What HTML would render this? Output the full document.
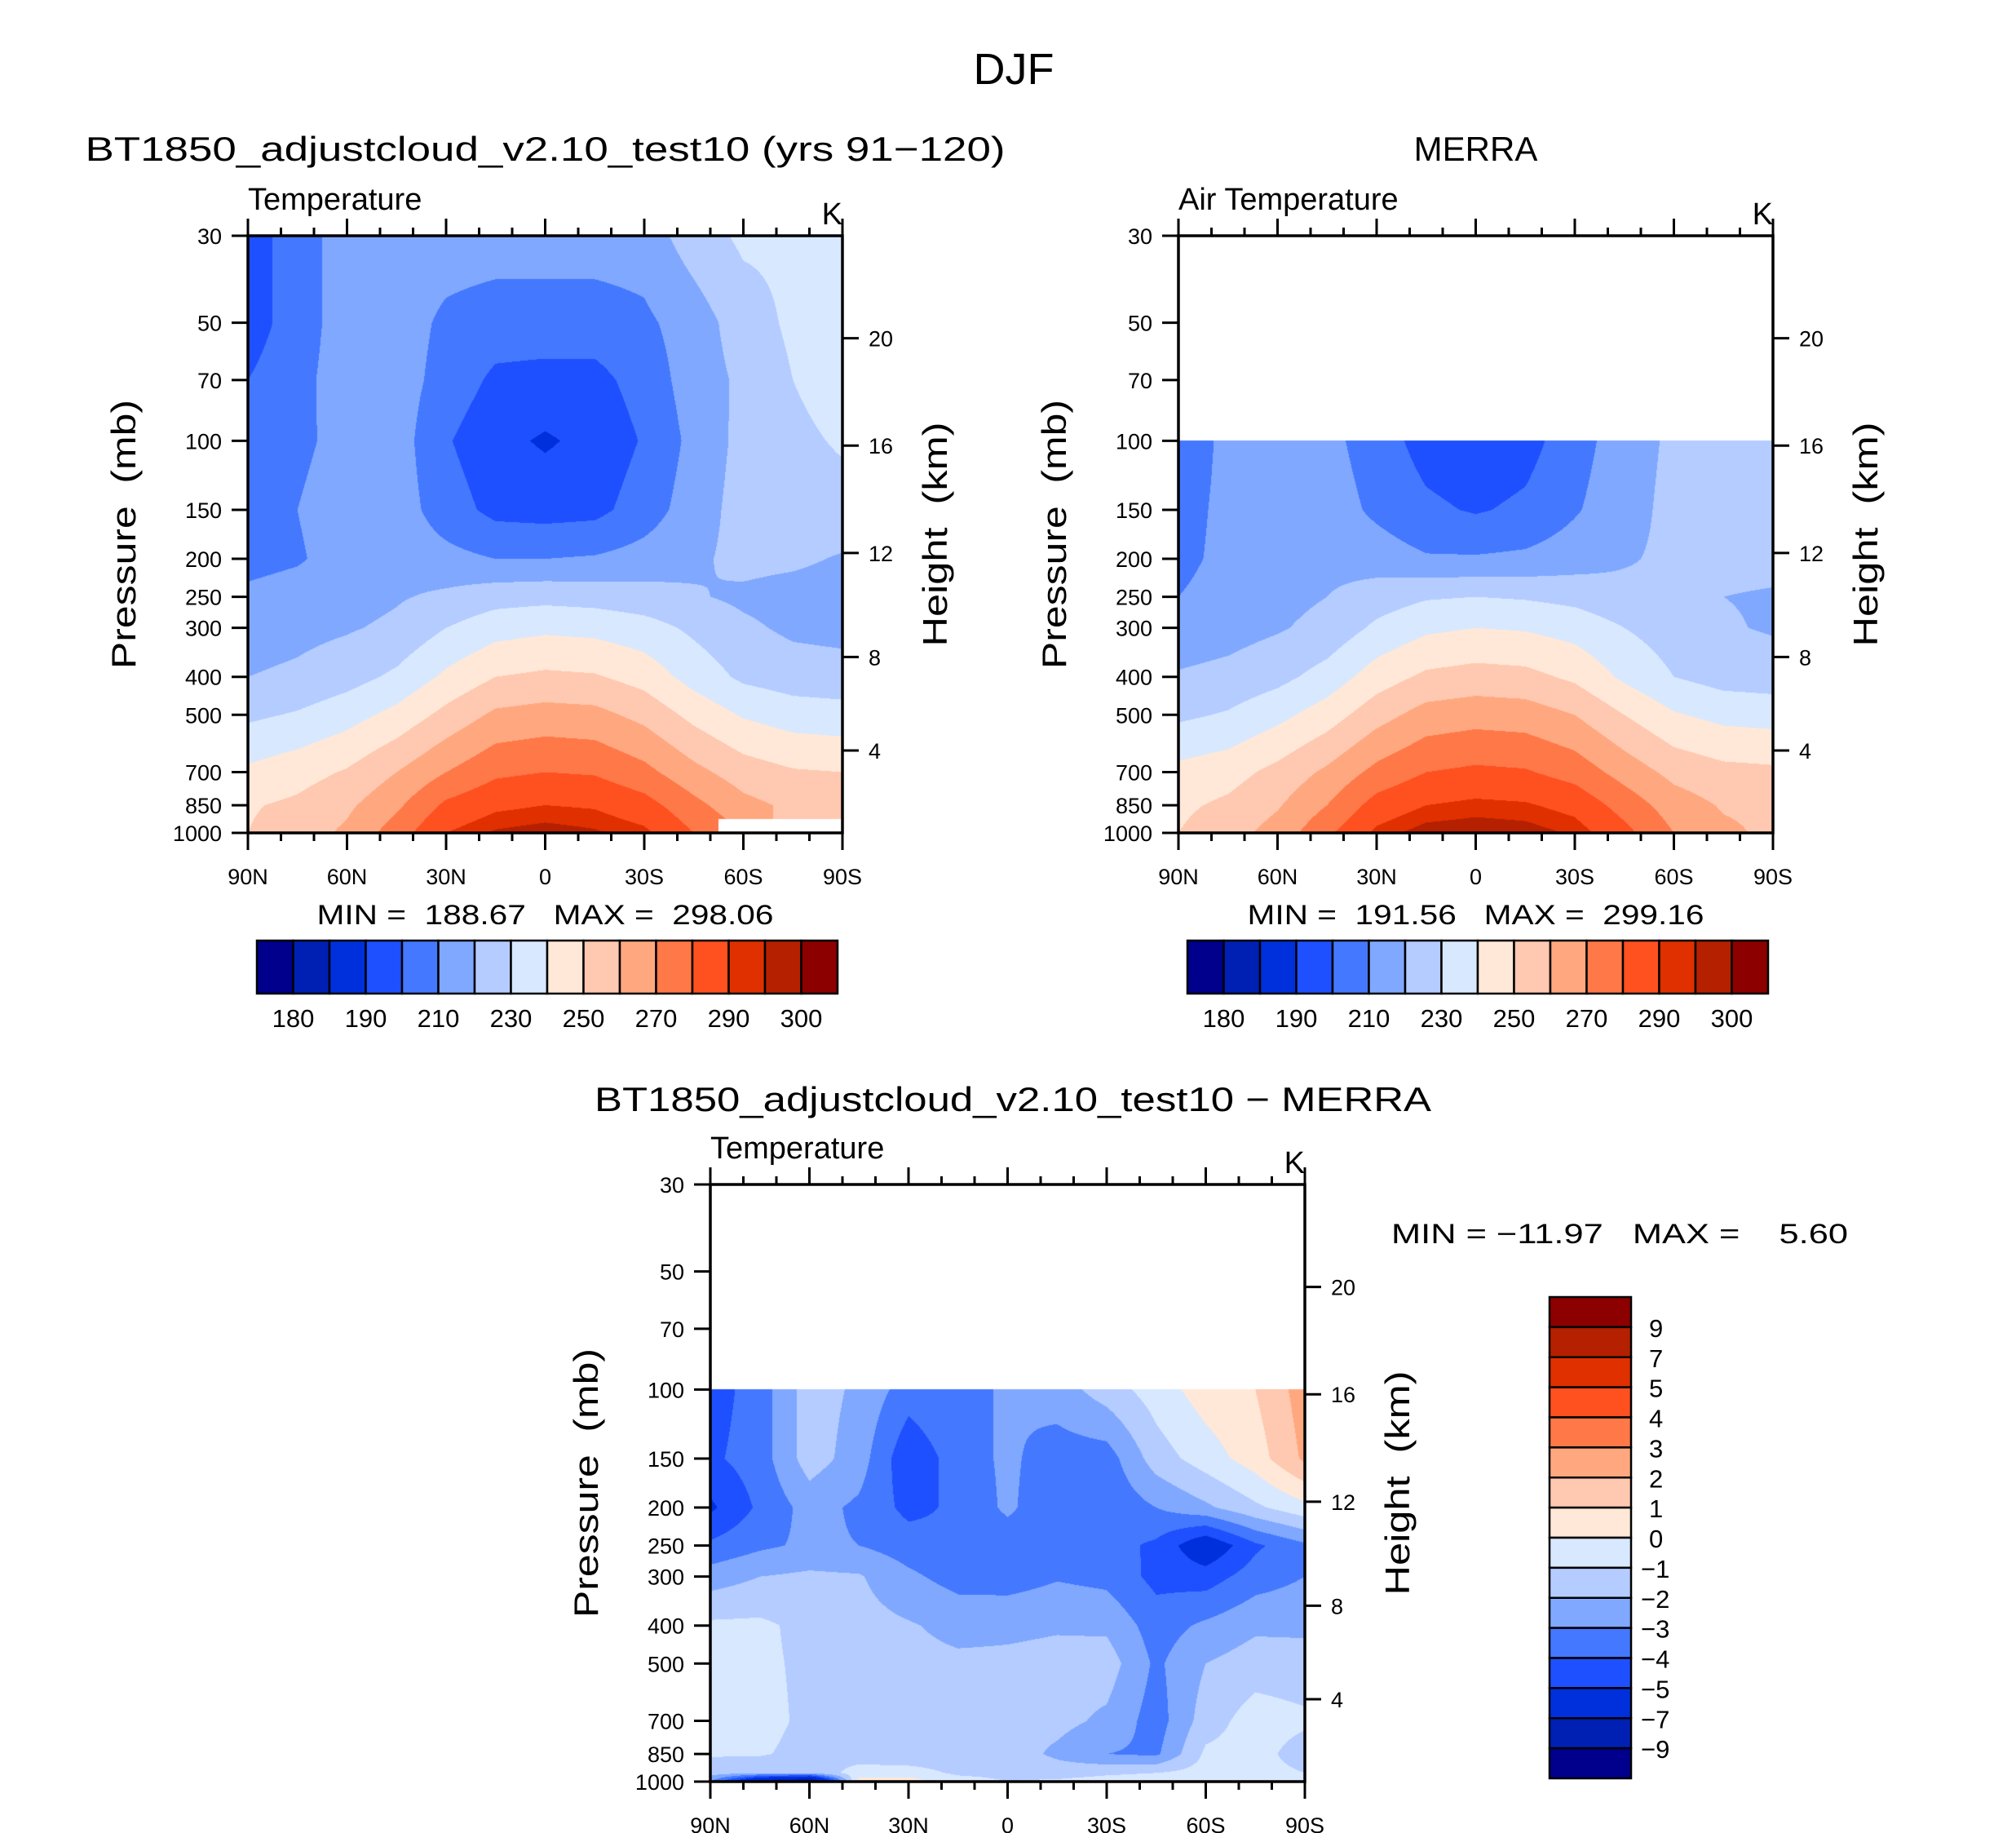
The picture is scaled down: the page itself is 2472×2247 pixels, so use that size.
<!DOCTYPE html>
<html><head><meta charset="utf-8"><style>
body{margin:0;background:#fff;}
#wrap{position:relative;width:2472px;height:2247px;overflow:hidden;background:#fff;}
canvas{position:absolute;}
svg{position:absolute;left:0;top:0;}
text{font-family:"Liberation Sans",sans-serif;fill:#000;}
</style></head><body>
<div id="wrap">
<canvas id="c1" width="729" height="732" style="left:304px;top:289px"></canvas>
<canvas id="c2" width="729" height="732" style="left:1445px;top:289px"></canvas>
<canvas id="c3" width="729" height="732" style="left:871px;top:1452px"></canvas>
<svg id="svg" width="2472" height="2247"></svg>
</div>
<script>
// ---- data ----
const lats = [90,75,60,45,30,15,0,-15,-30,-45,-60,-75,-90];
const levels1 = [30,50,70,100,150,200,250,300,400,500,700,850,1000];
const levels2 = [100,150,200,250,300,400,500,700,850,1000];
const levels3 = [100,150,200,250,300,400,500,700,850,950,1000];
const N = NaN;
const modelT = [
[195,205,215,215,215,215,215,215,215,225,232,232,233],
[195,205,215,215,208,205,205,205,208,215,225,232,235],
[200,207,215,215,206,198,197,197,204,215,222,230,234],
[205,208,213,215,201,193,188.7,193,201,213,223,228,231],
[208,210,215,215,205,197,196,197,205,215,224,226,227],
[207,209,214,216,213,210,210,211,214,218,223,222,219],
[212,214,216,219,222,226,227,226,224,221,218,216,215],
[215,217,219,222,230,236,238,237,234,228,222,218,217],
[220,222,226,232,242,250,252,251,246,236,228,225,224],
[228,231,236,243,253,262,264,263,257,247,239,235,234],
[242,246,251,260,270,278,280,279,273,263,255,251,250],
[249,252,258,268,282,288,290,289,284,273,263,258,257],
[250,255,262,275,290,296,298,296,292,280,N,N,N]];
const merraT = [
[205,212,214,213,205,196,193,196,206,215,222,224,225],
[207,212,216,215,208,202,199,202,209,216,223,225,226],
[208,212,217,217,215,211,211,212,215,219,222,223,223],
[210,213,217,220,225,229,230,229,227,223,221,220,219],
[214,216,219,223,232,238,240,239,236,230,225,221,219],
[221,223,227,234,245,252,254,253,248,238,230,226,225],
[228,231,237,245,256,264,266,265,260,250,241,237,236],
[243,246,253,262,273,280,282,281,276,266,257,253,252],
[248,252,259,270,284,290,292,291,287,276,265,259,258],
[250,256,264,278,292,298,299,298,294,283,270,262,258]];
const diffT = [
[-4.5,-3.5,-1.5,-2.2,-3.5,-3.0,-3.0,-2.5,-1.5,-0.5,0.5,1.0,2.5],
[-4.2,-3.5,-1.5,-2.5,-4.8,-3.5,-2.8,-3.5,-3.5,-1.5,-0.5,0.5,2.2],
[-5.2,-3.8,-2.6,-3.2,-4.3,-3.8,-2.8,-3.8,-3.8,-3.0,-2.2,-1.2,-0.3],
[-3.8,-3.2,-2.8,-3.0,-3.5,-3.8,-3.6,-3.6,-3.6,-4.2,-6.0,-4.2,-3.2],
[-2.5,-2.0,-1.8,-1.9,-2.8,-3.4,-3.5,-3.1,-3.3,-4.3,-4.5,-3.5,-3.0],
[-0.8,-0.8,-1.3,-1.6,-1.9,-2.3,-2.2,-2.1,-2.2,-3.5,-2.8,-2.2,-2.2],
[-0.8,-0.8,-1.2,-1.5,-1.7,-1.8,-1.8,-1.7,-1.5,-3.2,-2.0,-1.5,-1.6],
[-0.7,-0.7,-1.2,-1.5,-1.7,-1.8,-1.7,-1.7,-2.2,-3.5,-1.5,-0.5,-0.8],
[-0.9,-0.9,-1.3,-1.6,-1.8,-1.6,-1.5,-2.2,-3.0,-3.2,-0.8,-0.6,-1.5],
[-1.5,-1.8,-1.8,-0.5,-0.5,-1.2,-1.3,-1.5,-1.2,-1.0,-0.6,-0.6,-1.0],
[-3.0,-8.0,-10.0,0.5,0.5,-0.5,-1.0,-0.8,-0.5,-0.3,-0.5,-0.5,-0.5]];
const tempBounds = [180,185,190,200,210,220,230,240,250,260,270,280,290,295,300];
const tempLabels = ["180","","190","","210","","230","","250","","270","","290","","300"];
const diffBounds = [-9,-7,-5,-4,-3,-2,-1,0,1,2,3,4,5,7,9];
const palette = ["#00008c","#0020b4","#0030dc","#1e50ff","#4478ff","#80a8ff","#b4ccff","#d8e8ff","#ffe8d8","#ffc8b0","#ffa880","#ff7848","#ff5020","#e03000","#b42000","#8c0000"];
const xTicks = [90,60,30,0,-30,-60,-90];
const xTickLabels = ["90N","60N","30N","0","30S","60S","90S"];
const pTicks = [30,50,70,100,150,200,250,300,400,500,700,850,1000];
const zTicks = [4,8,12,16,20];

// ---- axes ----
const PW=729, PH=732, PTOP=30, PBOT=1000;
function yOfP(p){return Math.log(p/PTOP)/Math.log(PBOT/PTOP)*PH;}
function pOfY(y){return PTOP*Math.exp(y/PH*Math.log(PBOT/PTOP));}
function xOfLat(l){return (90-l)/180*PW;}
function pOfZ(z){const h=z*1000; return h<=11000?1013.25*Math.pow(1-2.25577e-5*h,5.25588):226.32*Math.exp(-(h-11000)/6341.6);}
function hexRgb(h){return [parseInt(h.slice(1,3),16),parseInt(h.slice(3,5),16),parseInt(h.slice(5,7),16)];}
const palRgb = palette.map(hexRgb);
function binOf(v,b){let i=0;while(i<b.length&&v>=b[i])i++;return i;}

function drawField(id,grid,lev,bounds){
  const cv=document.getElementById(id),ctx=cv.getContext('2d');
  const img=ctx.createImageData(PW,PH),d=img.data;
  const lg=lev.map(Math.log);
  for(let y=0;y<PH;y++){
    const p=pOfY(y+0.5),lp=Math.log(p);
    let r=-1;
    if(p>=lev[0]){r=0;while(r<lev.length-2&&lp>lg[r+1])r++;}
    for(let x=0;x<PW;x++){
      const k=(x+0.5)/PW*(lats.length-1);
      let o=(y*PW+x)*4;
      if(r<0){d[o]=d[o+1]=d[o+2]=255;d[o+3]=255;continue;}
      const c=Math.min(Math.floor(k),lats.length-2),fx=k-c;
      const fy=Math.min(1,Math.max(0,(lp-lg[r])/(lg[r+1]-lg[r])));
      const nr=fy<0.5?r:r+1,nc=fx<0.5?c:c+1;
      if(isNaN(grid[nr][nc])){d[o]=d[o+1]=d[o+2]=255;d[o+3]=255;continue;}
      const pts=[[grid[r][c],(1-fx)*(1-fy)],[grid[r][c+1],fx*(1-fy)],[grid[r+1][c],(1-fx)*fy],[grid[r+1][c+1],fx*fy]];
      let s=0,w=0;pts.forEach(q=>{if(!isNaN(q[0])){s+=q[0]*q[1];w+=q[1];}});
      const col=palRgb[binOf(s/w,bounds)];
      d[o]=col[0];d[o+1]=col[1];d[o+2]=col[2];d[o+3]=255;
    }
  }
  ctx.putImageData(img,0,0);
}
drawField('c1',modelT,levels1,tempBounds);
drawField('c2',merraT,levels2,tempBounds);
drawField('c3',diffT,levels3,diffBounds);

const svg=document.getElementById('svg');
const NS='http://www.w3.org/2000/svg';
function el(tag,attrs,parent){const e=document.createElementNS(NS,tag);for(const k in attrs)e.setAttribute(k,attrs[k]);(parent||svg).appendChild(e);return e;}
function txt(s,x,y,size,anchor,name,extra){
  const t=el('text',Object.assign({x:x,y:y,'font-size':size,'text-anchor':anchor||'start'},extra||{}));
  t.textContent=s;
  
  
  return t;
}
function line(x1,y1,x2,y2,w,g){return el('line',{x1:x1,y1:y1,x2:x2,y2:y2,stroke:'#000','stroke-width':w},g);}
const SP='\u00a0';

function panel(L,T,name,title,sub,minmax){
  const g=el('g',{});
  
  
  el('rect',{x:L,y:T,width:PW,height:PH,fill:'none',stroke:'#000','stroke-width':3.5},g);
  for(let l=90;l>=-90;l-=10){
    const x=L+xOfLat(l),major=(l%30===0);
    const len=major?21:10;
    line(x,T,x,T-len,3,g);line(x,T+PH,x,T+PH+len,3,g);
  }
  xTicks.forEach((l,i)=>txt(xTickLabels[i],L+xOfLat(l),T+PH+63,27,'middle','x-tick-label'));
  pTicks.forEach(p=>{const y=T+yOfP(p);line(L,y,L-20,y,3,g);txt(String(p),L-32,y+10,27,'end','y-tick-label');});
  zTicks.forEach(z=>{const y=T+yOfP(pOfZ(z));line(L+PW,y,L+PW+20,y,3,g);txt(String(z),L+PW+32,y+10,27,'start','height-tick-label');});
  const cy=T+PH/2;
  txt('Pressure'+SP+SP+'(mb)',L-138,cy,42,'middle','y-axis-title',{transform:`rotate(-90 ${L-138} ${cy})`,textLength:330,lengthAdjust:'spacingAndGlyphs'});
  txt('Height'+SP+SP+'(km)',L+PW+128,cy,42,'middle','height-axis-title',{transform:`rotate(-90 ${L+PW+128} ${cy})`,textLength:275,lengthAdjust:'spacingAndGlyphs'});
  txt(sub,L,T-32,38,'start','variable-label');
  txt('K',L+PW,T-14,38,'end','units-label');
  if(title)txt(title[0],L+PW/2,T-92,42,'middle','panel-title',title[1]?{textLength:title[1],lengthAdjust:'spacingAndGlyphs'}:{});
  if(minmax)txt(minmax,L+PW/2,T+PH+112,34,'middle','min-max-label',{textLength:560,lengthAdjust:'spacingAndGlyphs'});
}
panel(304,289,'model-panel',['BT1850_adjustcloud_v2.10_test10 (yrs 91\u2212120)',1128],'Temperature','MIN'+SP+'='+SP+SP+'188.67'+SP+SP+SP+'MAX'+SP+'='+SP+SP+'298.06');
panel(1445,289,'merra-panel',['MERRA',0],'Air Temperature','MIN'+SP+'='+SP+SP+'191.56'+SP+SP+SP+'MAX'+SP+'='+SP+SP+'299.16');
panel(871,1452,'difference-panel',null,'Temperature',null);
txt('DJF',1243,103,54,'middle','figure-title');
txt('BT1850_adjustcloud_v2.10_test10 \u2212 MERRA',1242,1362,42,'middle','difference-title',{textLength:1026,lengthAdjust:'spacingAndGlyphs'});
txt('MIN'+SP+'='+SP+'\u221211.97'+SP+SP+SP+'MAX'+SP+'='+SP+SP+SP+SP+'5.60',1706,1524,34,'start','difference-min-max',{textLength:560,lengthAdjust:'spacingAndGlyphs'});

// horizontal colorbars
function hbar(L,T,W,H,name){
  const g=el('g',{});
  
  
  const bw=W/palette.length;
  palette.forEach((c,i)=>{
    const r=el('rect',{x:L+i*bw,y:T,width:bw,height:H,fill:c,stroke:'#000','stroke-width':2.5},g);
    
    
  });
  tempLabels.forEach((s,i)=>{if(s)txt(s,L+(i+1)*bw,T+H+41,31,'middle','colorbar-label');});
}
hbar(315,1153,712,65,'model-colorbar');
hbar(1456,1153,712,65,'merra-colorbar');
// vertical colorbar
(function(){
  const L=1900,T=1590,W=100,H=590;
  const g=el('g',{});
  
  
  const bh=H/palette.length;
  for(let i=0;i<palette.length;i++){
    const r=el('rect',{x:L,y:T+i*bh,width:W,height:bh,fill:palette[palette.length-1-i],stroke:'#000','stroke-width':2.5},g);
    
    
  }
  const desc=diffBounds.slice().reverse();
  desc.forEach((v,i)=>txt(v<0?'\u2212'+(-v):String(v),v<0?L+W+12:L+W+22,T+(i+1)*bh+12,31,'start','colorbar-label'));
})();
</script>
</body></html>
